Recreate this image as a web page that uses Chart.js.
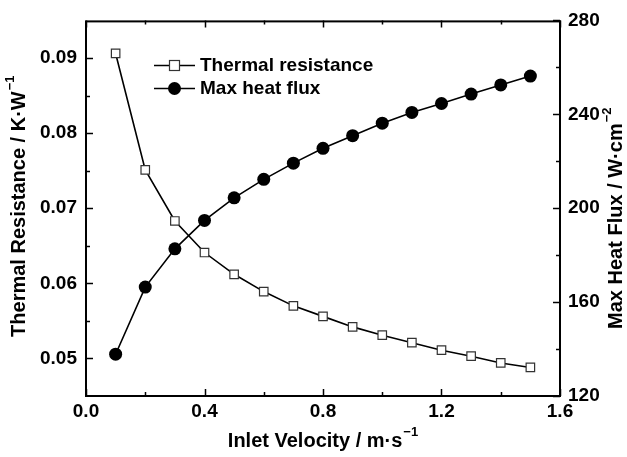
<!DOCTYPE html>
<html>
<head>
<meta charset="utf-8">
<script src="https://cdn.jsdelivr.net/npm/chart.js@4.4.1/dist/chart.umd.min.js"></script>
<style>
    html, body { margin: 0; padding: 0; background: #fff; }
    #wrap { width: 627px; height: 457px; }
</style>
</head>
<body>
<div id="wrap"><canvas id="chartCanvas" width="627" height="457"></canvas></div>
<script>
// Datos
const velocity = [0.1, 0.2, 0.3, 0.4, 0.5, 0.6, 0.7, 0.8, 0.9, 1.0, 1.1, 1.2, 1.3, 1.4, 1.5];
const thermalResistance = [0.0906, 0.0751, 0.0683, 0.0641, 0.0612, 0.0589, 0.0570, 0.0556, 0.0542, 0.0531, 0.0521, 0.0511, 0.0503, 0.0494, 0.0488];
const maxHeatFlux = [137.8, 166.4, 182.7, 194.8, 204.4, 212.3, 219.2, 225.5, 230.9, 236.2, 240.8, 244.6, 248.6, 252.5, 256.3];

// Marcas de los ejes
const xTicks = [0.0, 0.4, 0.8, 1.2, 1.6];
const xMinorTicks = [0.2, 0.6, 1.0, 1.4];
const yTicks = [0.05, 0.06, 0.07, 0.08, 0.09];
const yMinorTicks = [0.055, 0.065, 0.075, 0.085];
const y1Ticks = [120, 160, 200, 240, 280];
const y1MinorTicks = [140, 180, 220, 260];

const seriesLabels = ['Thermal resistance', 'Max heat flux'];

const FONT = '"Liberation Sans", Arial, sans-serif';

function toPoints(ys) {
    return velocity.map((v, i) => ({ x: v, y: ys[i] }));
}

// Marco, marcas interiores, títulos y leyenda
const framePlugin = {
    id: 'frame',
    afterDraw(chart) {
        const ctx = chart.ctx;
        const area = chart.chartArea;
        const sx = chart.scales.x, sy = chart.scales.y, sy1 = chart.scales.y1;

        ctx.save();
        ctx.strokeStyle = '#000';
        ctx.lineWidth = 2;
        ctx.strokeRect(area.left, area.top + 1, area.right - area.left, area.bottom - area.top - 1);

        ctx.lineWidth = 1.5;
        function tickX(v, len) {
            const px = Math.round(sx.getPixelForValue(v)) + 0.5;
            ctx.beginPath();
            ctx.moveTo(px, area.bottom); ctx.lineTo(px, area.bottom - len);
            ctx.moveTo(px, area.top); ctx.lineTo(px, area.top + len);
            ctx.stroke();
        }
        function tickY(scale, v, len, left) {
            const py = Math.round(scale.getPixelForValue(v)) + 0.5;
            ctx.beginPath();
            if (left) { ctx.moveTo(area.left, py); ctx.lineTo(area.left + len, py); }
            else { ctx.moveTo(area.right, py); ctx.lineTo(area.right - len, py); }
            ctx.stroke();
        }
        xTicks.forEach(v => tickX(v, 7));
        xMinorTicks.forEach(v => tickX(v, 4));
        yTicks.forEach(v => tickY(sy, v, 7, true));
        yMinorTicks.forEach(v => tickY(sy, v, 4, true));
        y1Ticks.forEach(v => tickY(sy1, v, 7, false));
        y1MinorTicks.forEach(v => tickY(sy1, v, 4, false));

        // Títulos con superíndice
        function drawTitle(main, sup, cx, cy, rotate) {
            ctx.save();
            ctx.translate(cx, cy);
            if (rotate) ctx.rotate(-Math.PI / 2);
            ctx.fillStyle = '#000';
            ctx.textBaseline = 'middle';
            ctx.font = 'bold 20px ' + FONT;
            const wMain = ctx.measureText(main).width;
            ctx.font = 'bold 13px ' + FONT;
            const wSup = ctx.measureText(sup).width;
            const start = -(wMain + wSup + 1) / 2;
            ctx.font = 'bold 20px ' + FONT;
            ctx.textAlign = 'left';
            ctx.fillText(main, start, 0);
            ctx.font = 'bold 13px ' + FONT;
            ctx.fillText(sup, start + wMain + 1, -9);
            ctx.restore();
        }
        const midY = (area.top + area.bottom) / 2;
        drawTitle('Inlet Velocity / m\u00b7s', '\u22121', (area.left + area.right) / 2, 441, false);
        drawTitle('Thermal Resistance / K\u00b7W', '\u22121', 19, midY - 2, true);
        drawTitle('Max Heat Flux / W\u00b7cm', '\u22122', 616, midY + 10, true);

        // Leyenda
        ctx.font = 'bold 19px ' + FONT;
        ctx.textAlign = 'left';
        ctx.textBaseline = 'middle';
        ctx.fillStyle = '#000';
        const rows = [65, 88];
        rows.forEach((ry, i) => {
            ctx.strokeStyle = '#000';
            ctx.lineWidth = 1.5;
            ctx.beginPath();
            ctx.moveTo(154, ry + 0.5); ctx.lineTo(195, ry + 0.5);
            ctx.stroke();
            if (i === 0) {
                ctx.fillStyle = '#fff';
                ctx.fillRect(169.5, ry - 4.5, 10, 10);
                ctx.strokeStyle = '#333';
                ctx.lineWidth = 1.2;
                ctx.strokeRect(169.5, ry - 4.5, 10, 10);
            } else {
                ctx.fillStyle = '#000';
                ctx.beginPath();
                ctx.arc(174.5, ry + 0.5, 6.5, 0, Math.PI * 2);
                ctx.fill();
            }
            ctx.fillStyle = '#000';
            ctx.fillText(seriesLabels[i], 200, ry + 1);
        });
        ctx.restore();
    }
};

const tickFont = { family: FONT, size: 19, weight: 'bold' };

new Chart(document.getElementById('chartCanvas'), {
    type: 'line',
    data: {
        datasets: [{
            label: seriesLabels[0],
            data: toPoints(thermalResistance),
            yAxisID: 'y',
            borderColor: '#000',
            borderWidth: 1.6,
            pointStyle: 'rect',
            pointRadius: 6,
            pointBackgroundColor: '#fff',
            pointBorderColor: '#333',
            pointBorderWidth: 1.2,
            tension: 0
        }, {
            label: seriesLabels[1],
            data: toPoints(maxHeatFlux),
            yAxisID: 'y1',
            borderColor: '#000',
            borderWidth: 1.6,
            pointStyle: 'circle',
            pointRadius: 6.5,
            pointBackgroundColor: '#000',
            pointBorderColor: '#000',
            pointBorderWidth: 0,
            tension: 0
        }]
    },
    options: {
        responsive: false,
        animation: false,
        devicePixelRatio: 1,
        layout: { padding: { top: 12, left: 0, right: 0, bottom: 0 } },
        plugins: {
            legend: { display: false },
            tooltip: { enabled: false }
        },
        scales: {
            x: {
                type: 'linear',
                min: 0, max: 1.6,
                afterBuildTicks: s => { s.ticks = xTicks.map(v => ({ value: v })); },
                afterFit: s => { s.height = 61; },
                grid: { display: false, drawTicks: false },
                border: { display: false },
                ticks: {
                    color: '#000', font: tickFont, padding: 4, maxRotation: 0,
                    callback: v => v.toFixed(1)
                }
            },
            y: {
                position: 'left',
                min: 0.045, max: 0.095,
                afterBuildTicks: s => { s.ticks = yTicks.map(v => ({ value: v })); },
                afterFit: s => { s.width = 86; },
                grid: { display: false, drawTicks: false },
                border: { display: false },
                ticks: {
                    color: '#000', font: tickFont, padding: 9,
                    callback: v => v.toFixed(2)
                }
            },
            y1: {
                position: 'right',
                min: 120, max: 280,
                afterBuildTicks: s => { s.ticks = y1Ticks.map(v => ({ value: v })); },
                afterFit: s => { s.width = 67; },
                grid: { display: false, drawTicks: false },
                border: { display: false },
                ticks: {
                    color: '#000', font: tickFont, padding: 8,
                    callback: v => String(v)
                }
            }
        }
    },
    plugins: [framePlugin]
});
</script>
</body>
</html>
